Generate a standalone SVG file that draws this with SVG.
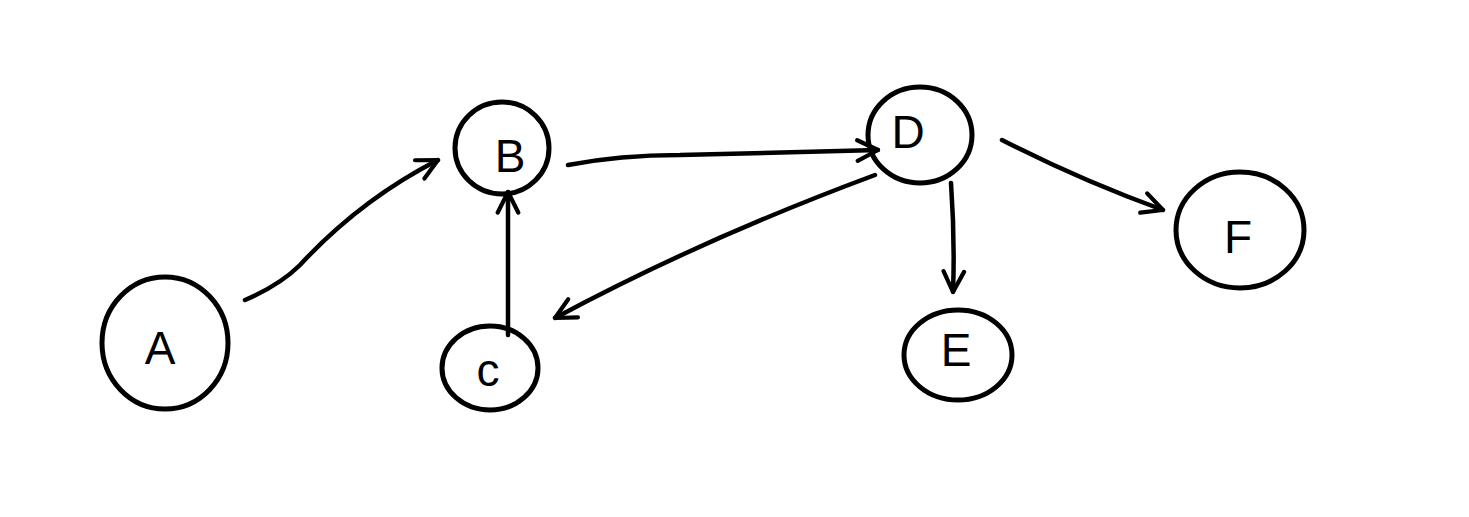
<svg xmlns="http://www.w3.org/2000/svg" width="1469" height="517" viewBox="0 0 1469 517">
<style>
.n{fill:none;stroke:#000;stroke-width:5;}
.t{font-family:"Liberation Sans",Arial,sans-serif;font-size:46px;fill:#000;text-anchor:middle;}
.e{fill:none;stroke:#000;stroke-width:4.5;stroke-linecap:round;stroke-linejoin:round;marker-end:url(#ah);}
</style>
<defs>
<marker id="ah" viewBox="0 0 30 30" refX="28" refY="15" markerWidth="28" markerHeight="28" orient="auto" markerUnits="userSpaceOnUse">
<path d="M6,4 L28,15 L6,26" fill="none" stroke="#000" stroke-width="4.5" stroke-linecap="round" stroke-linejoin="round"/>
</marker>
</defs>
<g id="connectors">
<path class="e" d="M245,300 Q280,285 300,265 Q360,200 438,160"/>
<path class="e" d="M568,165 Q620,155 680,155 L878,150"/>
<path class="e" d="M508,335 L508,192"/>
<path class="e" d="M875,175 Q700,240 555,318"/>
<path class="e" d="M951,183 Q955,240 953,292"/>
<path class="e" d="M1002,140 Q1080,180 1163,210"/>
</g>
<g id="A"><ellipse class="n" cx="165" cy="343" rx="63" ry="66"/><text class="t" x="160" y="364">A</text></g>
<g id="B"><ellipse class="n" cx="502" cy="148" rx="47" ry="46"/><text class="t" x="510" y="172">B</text></g>
<g id="C"><ellipse class="n" cx="490" cy="368" rx="48" ry="42"/><text class="t" x="488" y="386">c</text></g>
<g id="D"><ellipse class="n" cx="920" cy="135" rx="52" ry="48"/><text class="t" x="908" y="148">D</text></g>
<g id="E"><ellipse class="n" cx="958" cy="355" rx="54" ry="45"/><text class="t" x="956" y="366">E</text></g>
<g id="F"><ellipse class="n" cx="1240" cy="230" rx="64" ry="58"/><text class="t" x="1238" y="253">F</text></g>
</svg>
